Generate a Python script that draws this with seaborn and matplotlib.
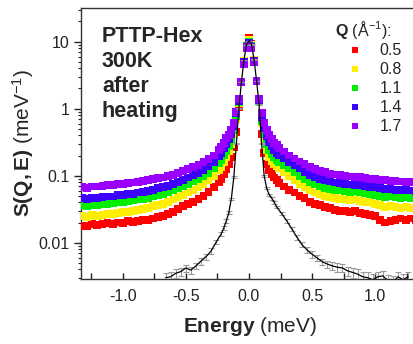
import numpy as np
import pandas as pd
import matplotlib
matplotlib.use("Agg")
import matplotlib.pyplot as plt
from matplotlib.lines import Line2D
from matplotlib.ticker import FixedLocator, MultipleLocator, LogLocator, NullFormatter, FuncFormatter
import seaborn as sns

# ---------------- data ----------------
E_left = [-1.32, -1.28, -1.24, -1.20, -1.16, -1.12, -1.08, -1.04, -1.00, -0.96, -0.92, -0.88, -0.84, -0.80,
          -0.76, -0.72, -0.68, -0.64, -0.60, -0.56, -0.52, -0.48, -0.44, -0.40, -0.36, -0.32, -0.28, -0.24]
E_center = [-0.22, -0.20, -0.18, -0.16, -0.14, -0.12, -0.10, -0.08, -0.06, -0.04, -0.02, 0.00,
            0.02, 0.04, 0.06, 0.08, 0.10, 0.12, 0.14, 0.16, 0.18, 0.20, 0.22]
E_right = [0.24, 0.28, 0.32, 0.36, 0.40, 0.44, 0.48, 0.52, 0.56, 0.60, 0.64, 0.68, 0.72, 0.76,
           0.80, 0.84, 0.88, 0.92, 0.96, 1.00, 1.04, 1.08, 1.12, 1.16, 1.20, 1.24, 1.28, 1.32]
energy = E_left + E_center + E_right

q_labels = ["0.5", "0.8", "1.1", "1.4", "1.7"]

s_q05 = ([0.018, 0.0175, 0.019, 0.0185, 0.019, 0.0195, 0.019, 0.020, 0.0195, 0.021, 0.0205, 0.021, 0.022, 0.0215,
          0.023, 0.024, 0.025, 0.027, 0.029, 0.032, 0.035, 0.038, 0.041, 0.045, 0.050, 0.057, 0.068, 0.080]
         + [0.090, 0.105, 0.125, 0.15, 0.19, 0.27, 0.45, 1.05, 2.5, 5.2, 9.0, 11.2,
            9.2, 5.4, 2.6, 1.3, 0.42, 0.22, 0.15, 0.12, 0.105, 0.094, 0.085]
         + [0.077, 0.069, 0.062, 0.056, 0.050, 0.046, 0.041, 0.038, 0.036, 0.034, 0.033, 0.031, 0.030, 0.030,
            0.029, 0.030, 0.028, 0.027, 0.026, 0.025, 0.022, 0.020, 0.021, 0.022, 0.023, 0.022, 0.023, 0.022])

s_q08 = ([0.025, 0.024, 0.026, 0.025, 0.026, 0.027, 0.0265, 0.028, 0.029, 0.029, 0.030, 0.031, 0.032, 0.033,
          0.035, 0.036, 0.038, 0.040, 0.044, 0.048, 0.052, 0.056, 0.061, 0.068, 0.076, 0.086, 0.100, 0.12]
         + [0.135, 0.16, 0.19, 0.23, 0.30, 0.42, 0.70, 1.2, 2.5, 5.1, 8.8, 10.5,
            8.9, 5.3, 2.6, 1.3, 0.60, 0.36, 0.24, 0.19, 0.165, 0.15, 0.138]
         + [0.13, 0.115, 0.10, 0.085, 0.076, 0.068, 0.061, 0.056, 0.053, 0.050, 0.048, 0.046, 0.045, 0.044,
            0.043, 0.044, 0.042, 0.041, 0.040, 0.038, 0.036, 0.034, 0.035, 0.034, 0.033, 0.034, 0.033, 0.032])

s_q11 = ([0.036, 0.035, 0.037, 0.036, 0.038, 0.038, 0.039, 0.040, 0.040, 0.042, 0.043, 0.044, 0.045, 0.047,
          0.049, 0.052, 0.054, 0.057, 0.061, 0.066, 0.071, 0.076, 0.082, 0.089, 0.099, 0.11, 0.13, 0.155]
         + [0.17, 0.20, 0.235, 0.28, 0.35, 0.48, 0.78, 1.25, 2.5, 5.0, 8.6, 10.0,
            8.7, 5.2, 2.6, 1.3, 0.65, 0.42, 0.30, 0.24, 0.21, 0.19, 0.172]
         + [0.16, 0.145, 0.128, 0.112, 0.10, 0.09, 0.08, 0.074, 0.069, 0.066, 0.063, 0.061, 0.060, 0.058,
            0.057, 0.058, 0.056, 0.055, 0.053, 0.052, 0.050, 0.048, 0.049, 0.048, 0.047, 0.048, 0.047, 0.046])

s_q14 = ([0.046, 0.045, 0.047, 0.047, 0.048, 0.049, 0.049, 0.051, 0.051, 0.053, 0.054, 0.056, 0.057, 0.059,
          0.062, 0.065, 0.068, 0.071, 0.076, 0.081, 0.087, 0.094, 0.102, 0.11, 0.122, 0.138, 0.16, 0.195]
         + [0.22, 0.26, 0.30, 0.35, 0.42, 0.55, 0.85, 1.3, 2.5, 4.9, 8.3, 9.5,
            8.4, 5.1, 2.6, 1.35, 0.75, 0.52, 0.39, 0.32, 0.275, 0.245, 0.22]
         + [0.205, 0.18, 0.16, 0.143, 0.128, 0.115, 0.103, 0.095, 0.089, 0.085, 0.082, 0.079, 0.077, 0.075,
            0.074, 0.073, 0.072, 0.070, 0.068, 0.067, 0.065, 0.063, 0.063, 0.062, 0.061, 0.061, 0.060, 0.059])

s_q17 = ([0.068, 0.066, 0.069, 0.069, 0.071, 0.072, 0.072, 0.075, 0.076, 0.078, 0.079, 0.081, 0.083, 0.085,
          0.088, 0.091, 0.094, 0.098, 0.103, 0.11, 0.118, 0.125, 0.134, 0.145, 0.158, 0.175, 0.20, 0.24]
         + [0.27, 0.31, 0.36, 0.41, 0.48, 0.62, 0.90, 1.4, 2.5, 4.7, 8.0, 9.0,
            8.1, 5.0, 2.6, 1.4, 0.85, 0.62, 0.48, 0.40, 0.35, 0.31, 0.285]
         + [0.26, 0.23, 0.20, 0.18, 0.163, 0.148, 0.135, 0.125, 0.118, 0.112, 0.107, 0.104, 0.101, 0.099,
            0.097, 0.096, 0.095, 0.092, 0.090, 0.089, 0.087, 0.085, 0.084, 0.083, 0.082, 0.081, 0.080, 0.079])

# resolution (black line with error bars)
res_E = [-0.66, -0.62, -0.58, -0.54, -0.50, -0.46, -0.42, -0.38, -0.34, -0.30, -0.26, -0.22,
         -0.20, -0.18, -0.16, -0.14, -0.12, -0.10, -0.08, -0.06, -0.04, -0.02, 0.00,
         0.02, 0.04, 0.06, 0.08, 0.10, 0.12, 0.14, 0.16, 0.18, 0.20, 0.22,
         0.26, 0.30, 0.34, 0.38, 0.42, 0.46, 0.50, 0.54, 0.58, 0.62, 0.66, 0.70, 0.74,
         0.78, 0.82, 0.86, 0.90, 0.94, 0.98, 1.02, 1.06, 1.10, 1.14, 1.18, 1.22, 1.26]
res_S = [0.0030, 0.0031, 0.0035, 0.0037, 0.0042, 0.0039, 0.0045, 0.0053, 0.0062, 0.0075, 0.0102, 0.0135,
         0.0165, 0.021, 0.028, 0.045, 0.095, 0.30, 1.0, 2.5, 5.3, 9.0, 10.3,
         9.1, 5.4, 2.6, 1.15, 0.30, 0.10, 0.065, 0.052, 0.046, 0.040, 0.034,
         0.027, 0.021, 0.016, 0.012, 0.0093, 0.0078, 0.0067, 0.0059, 0.0052, 0.0048, 0.0045, 0.0043, 0.0042,
         0.0038, 0.0036, 0.0034, 0.0031, 0.0030, 0.0028, 0.0031, 0.0032, 0.0027, 0.0026, 0.0031, 0.0028, 0.0031]
res_err = [0.0005, 0.0005, 0.0005, 0.0005, 0.0005, 0.0005, 0.0005, 0.0006, 0.0006, 0.0007, 0.0008, 0.0010,
           0.0011, 0.0013, 0.0015, 0.0020, 0.0030, 0.006, 0.015, 0.03, 0.05, 0.07, 0.08,
           0.07, 0.05, 0.03, 0.015, 0.006, 0.003, 0.0025, 0.0020, 0.0020, 0.0018, 0.0016,
           0.0014, 0.0012, 0.0010, 0.0009, 0.0008, 0.0007, 0.0007, 0.0006, 0.0006, 0.0006, 0.0006, 0.0006, 0.0006,
           0.0006, 0.0006, 0.0006, 0.0006, 0.0006, 0.0006, 0.0006, 0.0006, 0.0006, 0.0006, 0.0006, 0.0006, 0.0006]

series = [s_q05, s_q08, s_q11, s_q14, s_q17]
colors = ["#ff0000", "#ffee00", "#00ee00", "#3c00ff", "#9a00ff"]

for s in series:
    assert len(s) == len(energy)
assert len(res_E) == len(res_S) == len(res_err)

df = pd.concat([pd.DataFrame({"E": energy, "S": s, "Q": q}) for s, q in zip(series, q_labels)],
               ignore_index=True)

# ---------------- style ----------------
sns.set_style("ticks")
plt.rcParams["font.family"] = ["Liberation Sans", "DejaVu Sans"]
plt.rcParams["mathtext.fontset"] = "custom"
plt.rcParams["mathtext.rm"] = "Liberation Sans"
plt.rcParams["mathtext.bf"] = "Liberation Sans:bold"
plt.rcParams["mathtext.it"] = "Liberation Sans:italic"
plt.rcParams["axes.unicode_minus"] = False

fig = plt.figure(figsize=(4.14, 3.44), dpi=100)
W, H = 414.0, 344.0
ax_l, ax_r, ax_t, ax_b = 81.0, 419.5, 8.0, 279.0
ax = fig.add_axes([ax_l / W, 1 - ax_b / H, (ax_r - ax_l) / W, (ax_b - ax_t) / H])

sns.scatterplot(data=df, x="E", y="S", hue="Q", palette=colors, hue_order=q_labels,
                marker="s", s=32, linewidth=0, legend=False, ax=ax, zorder=3)

ax.errorbar(res_E, res_S, yerr=res_err, fmt="none", ecolor="#9a9a9a", elinewidth=0.8,
            capsize=2, capthick=0.8, zorder=4)
sns.lineplot(x=res_E, y=res_S, color="black", linewidth=0.9, ax=ax, zorder=5, estimator=None)

ax.set_yscale("log")
ax.set_xlim(-1.33, 1.35)
ax.set_ylim(0.00287, 31.8)

ax.xaxis.set_major_locator(FixedLocator([-1.0, -0.5, 0.0, 0.5, 1.0]))
ax.xaxis.set_minor_locator(MultipleLocator(0.25))
ax.xaxis.set_major_formatter(FuncFormatter(lambda v, p: "%.1f" % v))
ax.yaxis.set_major_locator(LogLocator(base=10, numticks=10))
ax.yaxis.set_minor_locator(LogLocator(base=10, subs=np.arange(2, 10), numticks=20))
ax.yaxis.set_minor_formatter(NullFormatter())
ax.yaxis.set_major_formatter(FuncFormatter(lambda v, p: "{:g}".format(v)))

ax.tick_params(axis="x", which="both", direction="in", length=4, width=1, colors="#222222",
               labelsize=11.5, pad=7, top=False)
ax.tick_params(axis="y", which="major", direction="out", length=5, width=1, colors="#222222",
               labelsize=11.5, pad=3, right=False)
ax.tick_params(axis="y", which="minor", direction="out", length=2.5, width=0.8, colors="#222222",
               right=False)
for sp in ["left", "bottom", "top", "right"]:
    ax.spines[sp].set_color("#333333")
    ax.spines[sp].set_linewidth(1.0)

ax.set_xlabel(r"$\mathbf{Energy}$ (meV)", fontsize=15, labelpad=8)
ax.set_ylabel(r"$\mathbf{S(Q,E)}$ (meV$^{-1}$)", fontsize=15, labelpad=2)

ax.text(0.062, 0.935, "PTTP-Hex\n300K\nafter\nheating", transform=ax.transAxes,
        fontsize=15.5, fontweight="bold", ha="left", va="top", linespacing=1.25, zorder=6)

# legend
ax.text(0.750, 0.919, r"$\mathbf{Q}$ (Å$^{-1}$):", transform=ax.transAxes, fontsize=11.5,
        ha="left", va="center", zorder=6)
handles = [Line2D([], [], marker="s", ls="none", color=c, markersize=4.2, markeredgewidth=0)
           for c in colors]
ax.legend(handles, q_labels, loc="upper left", bbox_to_anchor=(0.787, 0.870), frameon=False,
          fontsize=11.5, borderpad=0, borderaxespad=0, handlelength=1.0, handletextpad=1.0,
          labelspacing=0.25)

fig.savefig("out.png", dpi=100)
